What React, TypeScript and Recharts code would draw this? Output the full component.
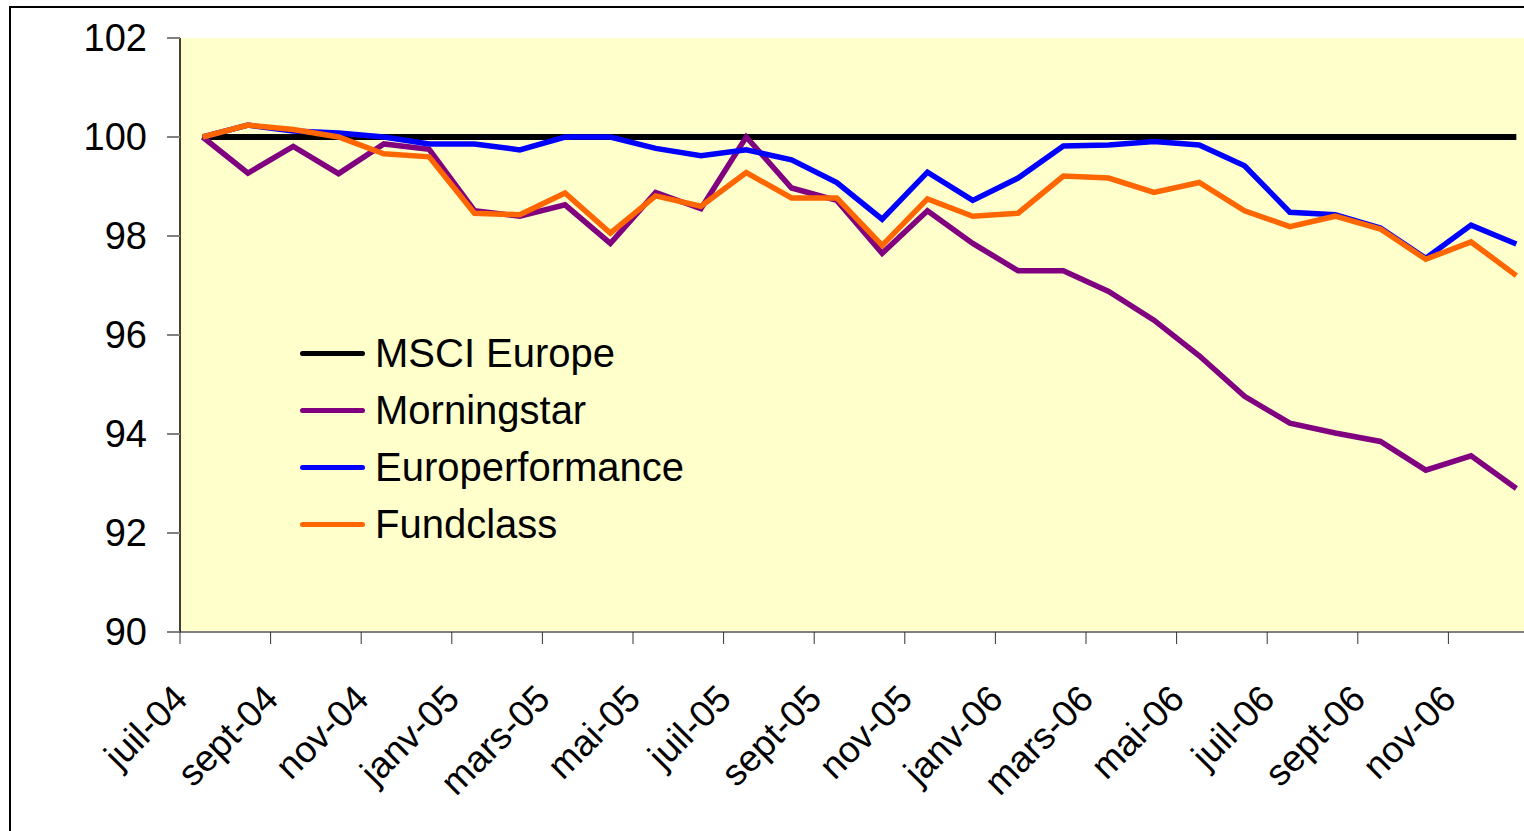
import { LineChart, Line, XAxis, YAxis, CartesianGrid, Legend } from 'recharts';

const MONTHS = [
  'juil-04', 'août-04', 'sept-04', 'oct-04', 'nov-04', 'déc-04',
  'janv-05', 'févr-05', 'mars-05', 'avr-05', 'mai-05', 'juin-05',
  'juil-05', 'août-05', 'sept-05', 'oct-05', 'nov-05', 'déc-05',
  'janv-06', 'févr-06', 'mars-06', 'avr-06', 'mai-06', 'juin-06',
  'juil-06', 'août-06', 'sept-06', 'oct-06', 'nov-06', 'déc-06',
];

const MSCI_EUROPE = [
  100, 100, 100, 100, 100, 100, 100, 100, 100, 100,
  100, 100, 100, 100, 100, 100, 100, 100, 100, 100,
  100, 100, 100, 100, 100, 100, 100, 100, 100, 100,
];

const MORNINGSTAR = [
  100, 99.27, 99.81, 99.26, 99.86, 99.75, 98.51, 98.4, 98.63, 97.85,
  98.88, 98.55, 100.0, 98.97, 98.72, 97.65, 98.51, 97.85, 97.3, 97.3,
  96.88, 96.3, 95.58, 94.76, 94.22, 94.02, 93.85, 93.27, 93.56, 92.9,
];

const EUROPERFORMANCE = [
  100, 100.24, 100.12, 100.08, 100.0, 99.86, 99.86, 99.74, 100.0, 100.0,
  99.77, 99.62, 99.74, 99.54, 99.08, 98.34, 99.29, 98.72, 99.17, 99.82,
  99.84, 99.91, 99.84, 99.42, 98.48, 98.43, 98.16, 97.55, 98.22, 97.84,
];

const FUNDCLASS = [
  100, 100.24, 100.15, 100.0, 99.66, 99.6, 98.46, 98.43, 98.87, 98.06,
  98.81, 98.6, 99.28, 98.77, 98.77, 97.81, 98.75, 98.4, 98.46, 99.21,
  99.17, 98.88, 99.08, 98.51, 98.19, 98.4, 98.14, 97.53, 97.88, 97.2,
];

const Y_TICKS = [90, 92, 94, 96, 98, 100, 102];

const SERIES_NAMES = ['MSCI Europe', 'Morningstar', 'Europerformance', 'Fundclass'];

const data = MONTHS.map((m, i) => ({
  month: m,
  msci: MSCI_EUROPE[i],
  morningstar: MORNINGSTAR[i],
  europerf: EUROPERFORMANCE[i],
  fundclass: FUNDCLASS[i],
}));

const FONT = '"Liberation Sans", Arial, sans-serif';
const HALF_BAND = 22.65;

const MonthTick = (props: any) => {
  const { x, y, payload } = props;
  const i = MONTHS.indexOf(payload.value);
  if (i % 2 !== 0) return <g />;
  const tx = x - 13;
  const ty = y + 69;
  return (
    <g>
      <line x1={x - HALF_BAND} x2={x - HALF_BAND} y1={y} y2={y + 12} stroke="#333" strokeWidth={1} />
      <text
        x={tx}
        y={ty}
        transform={`rotate(-45 ${tx} ${ty})`}
        textAnchor="end"
        fontSize={37}
        fontFamily={FONT}
        fill="#000"
      >
        {payload.value}
      </text>
    </g>
  );
};

const renderLegend = (props: any) => {
  const items = [...props.payload].sort(
    (a: any, b: any) => SERIES_NAMES.indexOf(a.value) - SERIES_NAMES.indexOf(b.value)
  );
  return (
    <div style={{ fontFamily: FONT }}>
      {items.map((entry: any) => (
        <div key={entry.value} style={{ display: 'flex', alignItems: 'center', height: 57 }}>
          <div style={{ width: 65, height: 5, borderRadius: 3, background: entry.color, marginRight: 10 }} />
          <span style={{ fontSize: 40, color: '#000', lineHeight: '57px' }}>{entry.value}</span>
        </div>
      ))}
    </div>
  );
};

export default function App() {
  return (
    <div style={{ position: 'fixed', left: 0, top: 0, width: 1524, height: 831, overflow: 'hidden', background: '#fff' }}>
      <div style={{
        position: 'absolute', left: 9, top: 6, width: 2000, height: 2000,
        border: '2px solid #000',
      }} />
      <div style={{ position: 'absolute', left: 0, top: 0 }}>
        <LineChart
          width={1539}
          height={831}
          data={data}
          margin={{ top: 38, right: 0, bottom: 0, left: 0 }}
        >
          <CartesianGrid fill="#FFFFCC" horizontal={false} vertical={false} />
          <XAxis
            dataKey="month"
            interval={0}
            height={199}
            padding={{ left: HALF_BAND, right: HALF_BAND }}
            tickSize={0}
            tickMargin={0}
            tickLine={false}
            axisLine={{ stroke: '#808080', strokeWidth: 2 }}
            tick={<MonthTick />}
          />
          <YAxis
            width={180}
            domain={[90, 102]}
            ticks={Y_TICKS}
            interval={0}
            tickSize={13}
            tickMargin={20}
            tickLine={{ stroke: '#808080', strokeWidth: 2 }}
            axisLine={{ stroke: '#000', strokeWidth: 1.5 }}
            tick={{ fontSize: 38, fill: '#000', fontFamily: FONT }}
          />
          <Legend
            layout="horizontal"
            verticalAlign="middle"
            align="center"
            wrapperStyle={{ left: 300, top: 325, width: 420 }}
            content={renderLegend}
          />
          <Line type="linear" dataKey="msci" name="MSCI Europe" stroke="#000000" strokeWidth={6} dot={false} isAnimationActive={false} />
          <Line type="linear" dataKey="morningstar" name="Morningstar" stroke="#800080" strokeWidth={5.5} dot={false} isAnimationActive={false} />
          <Line type="linear" dataKey="europerf" name="Europerformance" stroke="#0000FF" strokeWidth={5.5} dot={false} isAnimationActive={false} />
          <Line type="linear" dataKey="fundclass" name="Fundclass" stroke="#FF6600" strokeWidth={5.5} dot={false} isAnimationActive={false} />
        </LineChart>
      </div>
    </div>
  );
}
